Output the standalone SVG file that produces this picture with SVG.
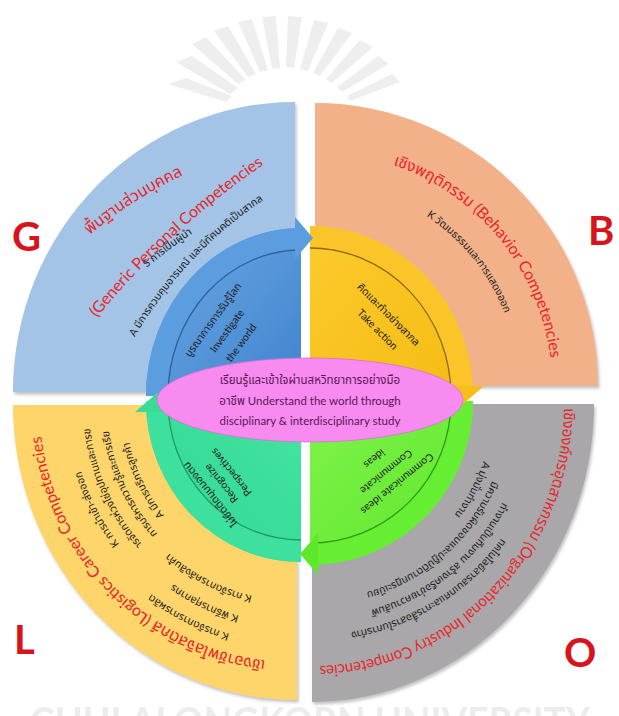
<svg xmlns="http://www.w3.org/2000/svg" width="619" height="716" viewBox="0 0 619 716">
<defs>
<filter id="sh" x="-10%" y="-10%" width="120%" height="120%"><feDropShadow dx="1.5" dy="2.5" stdDeviation="1.5" flood-color="#777" flood-opacity="0.45"/></filter>
<linearGradient id="gBlue" x1="0" y1="0" x2="1" y2="1"><stop offset="0" stop-color="#6ea9e3"/><stop offset="1" stop-color="#3f83cf"/></linearGradient>
<linearGradient id="gYel" x1="0" y1="0" x2="1" y2="1"><stop offset="0" stop-color="#fccb2e"/><stop offset="1" stop-color="#f5bb12"/></linearGradient>
<linearGradient id="gTeal" x1="1" y1="0" x2="0" y2="1"><stop offset="0" stop-color="#45e3a2"/><stop offset="1" stop-color="#2fd690"/></linearGradient>
<linearGradient id="gGrn" x1="0" y1="0" x2="1" y2="1"><stop offset="0" stop-color="#80f34b"/><stop offset="1" stop-color="#5ce62a"/></linearGradient>
<path id="pG1" d="M84,240 A420,420 0 0 1 190,172"/>
<path id="pG2" d="M95,320 A800,800 0 0 1 266,163"/>
<path id="pG3" d="M142,272 A420,420 0 0 1 198,230"/>
<path id="pG4" d="M132,342 A420,420 0 0 1 268,197"/>
<path id="pB1" d="M374,159 A236,236 0 0 1 552,378"/>
<path id="pB2" d="M423,214 A203,203 0 0 1 506,317"/>
<path id="pL1" d="M270,661 A257,257 0 0 1 41,432"/>
<path id="pL2" d="M263,598 A196,196 0 0 1 161,546"/>
<path id="pL3" d="M244,617 A218,218 0 0 1 169,581"/>
<path id="pL4" d="M231,634 A238,238 0 0 1 150,593"/>
<path id="pL5" d="M165,516 A172,172 0 0 1 129,441"/>
<path id="pL6" d="M156,532 A190,190 0 0 1 109,431"/>
<path id="pL7" d="M142,544 A208,208 0 0 1 90,427"/>
<path id="pL8" d="M124,550 A226,226 0 0 1 79,464"/>
<path id="pO1" d="M564,406 A252,262 0 0 1 312,666"/>
<path id="pO2" d="M489,440 A180,180 0 0 1 440,531"/>
<path id="pO3" d="M496,471 A196,196 0 0 1 356,595"/>
<path id="pO4" d="M501,505 A214,214 0 0 1 370,610"/>
<path id="pO5" d="M502,537 A232,232 0 0 1 350,632"/>
</defs>
<style>
text{font-family:Lato,"Noto Sans Thai","Noto Sans","DejaVu Sans",sans-serif}
.big{font-size:40px;font-weight:bold;fill:#d7141c}
.red{font-size:16px;fill:#e8262b}
.blk{font-size:10.5px;fill:#1a1a1a}
.in{font-size:10.5px;fill:#1b1b1b}
.el{font-size:11.5px;fill:#5a1656;text-anchor:middle}
.sep{fill:none;stroke-width:1.3}
.band{fill:none;stroke-width:22}
.ray{fill:#ededed}
</style>

<g id="watermark" opacity="0.9">
<path class="ray" d="M168,84 L186,78 L232,96 L226,102 Z"/>
<path class="ray" d="M176,62 L192,56 L238,88 L230,94 Z"/>
<path class="ray" d="M192,44 L206,37 L246,80 L238,84 Z"/>
<path class="ray" d="M214,31 L228,26 L256,74 L248,77 Z"/>
<path class="ray" d="M238,22 L252,19 L268,70 L260,72 Z"/>
<path class="ray" d="M262,17 L276,16 L280,68 L272,69 Z"/>
<path class="ray" d="M288,16 L302,17 L294,68 L286,67 Z"/>
<path class="ray" d="M314,20 L328,23 L308,71 L300,69 Z"/>
<path class="ray" d="M338,28 L352,33 L320,76 L313,73 Z"/>
<path class="ray" d="M360,40 L373,47 L332,83 L326,79 Z"/>
<path class="ray" d="M378,56 L389,64 L342,92 L337,87 Z"/>
<path class="ray" d="M392,74 L400,82 L350,101 L347,96 Z"/>
<text x="310" y="736" text-anchor="middle" font-size="40" font-weight="bold" fill="#ebebeb" textLength="560" lengthAdjust="spacingAndGlyphs">CHULALONGKORN UNIVERSITY</text>
</g>

<g id="G">
<path d="M295,392 L13,392 A282,290 0 0 1 295,102 Z" fill="#a3c4e6" filter="url(#sh)"/>
<text class="big" x="12" y="251">G</text>
<text class="red" font-size="15"><textPath href="#pG1" startOffset="50%" text-anchor="middle">พื้นฐานส่วนบุคคล</textPath></text>
<text class="red" font-size="14.5"><textPath href="#pG2" startOffset="50%" text-anchor="middle">(Generic Personal Competencies</textPath></text>
<text class="blk"><textPath href="#pG3" startOffset="50%" text-anchor="middle">S การเป็นผู้นำ</textPath></text>
<text class="blk"><textPath href="#pG4" startOffset="50%" text-anchor="middle">A มีการควบคุมอารมณ์ และมีทัศนคติเป็นสากล</textPath></text>
</g>

<g id="B">
<path d="M315,386 L315,103 A283,283 0 0 1 598,386 Z" fill="#f3b189" filter="url(#sh)"/>
<text class="big" x="588" y="245">B</text>
<text class="red" font-size="17.5"><textPath href="#pB1" startOffset="50%" text-anchor="middle">เชิงพฤติกรรม (Behavior Competencies</textPath></text>
<text class="blk"><textPath href="#pB2" startOffset="50%" text-anchor="middle">K วัฒนธรรมและการแสดงออก</textPath></text>
</g>

<g id="L">
<path d="M297,405 L297,700 A284,295 0 0 1 13,405 Z" fill="#fdd56a" filter="url(#sh)"/>
<text class="big" x="14" y="654">L</text>
<text class="red" font-size="17" fill="#e84a1c"><textPath href="#pL1" startOffset="50%" text-anchor="middle">เชิงอาชีพโลจิสติกส์ (Logistics Career Competencies</textPath></text>
<text class="blk"><textPath href="#pL2" startOffset="50%" text-anchor="middle">K การจัดการคลังสินค้า</textPath></text>
<text class="blk"><textPath href="#pL3" startOffset="50%" text-anchor="middle">K พิธีการศุลกากร</textPath></text>
<text class="blk"><textPath href="#pL4" startOffset="50%" text-anchor="middle">K การจัดการการผลิต</textPath></text>
<text class="blk"><textPath href="#pL5" startOffset="50%" text-anchor="middle">A มีการบริการลูกค้า</textPath></text>
<text class="blk"><textPath href="#pL6" startOffset="50%" text-anchor="middle">K การบริหารความรู้และการเรียนรู้</textPath></text>
<text class="blk"><textPath href="#pL7" startOffset="50%" text-anchor="middle">K การจัดการห่วงโซ่อุปทานและการขนส่ง</textPath></text>
<text class="blk"><textPath href="#pL8" startOffset="50%" text-anchor="middle">K การนำเข้า-ส่งออก</textPath></text>
</g>

<g id="O">
<path d="M312,404 L594,404 A282,298 0 0 1 312,702 Z" fill="#a9a7a9" filter="url(#sh)"/>
<text class="big" x="564" y="667">O</text>
<text class="red" font-size="14"><textPath href="#pO1" startOffset="2" textLength="392" lengthAdjust="spacingAndGlyphs">เชิงองค์กรอุตสาหกรรม (Organizational Industry Competencies</textPath></text>
<text class="blk"><textPath href="#pO2" startOffset="50%" text-anchor="middle">A มุ่งมั่นทำงาน</textPath></text>
<text class="blk"><textPath href="#pO3" startOffset="50%" text-anchor="middle">มีความรับผิดชอบและปฏิบัติตามกฎระเบียบ</textPath></text>
<text class="blk"><textPath href="#pO4" startOffset="50%" text-anchor="middle">S ทำงานเป็นทีมงาน สร้างเครือข่ายความสัมพันธ์</textPath></text>
<text class="blk"><textPath href="#pO5" startOffset="50%" text-anchor="middle">S เทคโนโลยีสารสนเทศและการสื่อสารในการทำงาน</textPath></text>
</g>

<g id="inner-blue">
<path d="M301,396 L146,396 A155,168 0 0 1 301,228 Z" fill="url(#gBlue)"/>
<path class="band" d="M157,396 A144,157 0 0 1 301,239" stroke="#5b9ddf"/>
<path class="sep" d="M168,396 A133,146 0 0 1 301,250" stroke="#2c5f98"/>
<text class="in" transform="translate(216,322) rotate(-54)" text-anchor="middle">บูรณาการการรับรู้โลก</text>
<text class="in" transform="translate(230,333) rotate(-54)" text-anchor="middle">Investigate</text>
<text class="in" transform="translate(244,345) rotate(-54)" text-anchor="middle">the world</text>
</g>

<g id="inner-yellow">
<path d="M310,396 L310,226 A163,170 0 0 1 473,396 Z" fill="url(#gYel)"/>
<path class="band" d="M310,237 A152,159 0 0 1 462,396" stroke="#fbc52a"/>
<path class="sep" d="M310,248 A141,148 0 0 1 451,396" stroke="#8a6a10"/>
<text class="in" font-size="11" transform="translate(386,317) rotate(45)" text-anchor="middle">คิดและทำอย่างสากล</text>
<text class="in" font-size="11" transform="translate(375,332) rotate(45)" text-anchor="middle">Take action</text>
</g>

<g id="inner-teal">
<path d="M301,401 L301,562 A155,161 0 0 1 146,401 Z" fill="url(#gTeal)"/>
<path class="band" d="M301,551 A144,150 0 0 1 157,401" stroke="#3ee09e"/>
<path class="sep" d="M301,540 A133,139 0 0 1 168,401" stroke="#1f9a68"/>
<text class="in" transform="translate(213,492) rotate(231)" text-anchor="middle">ไม่ยึดติดมุมมองตน</text>
<text class="in" transform="translate(224,481) rotate(231)" text-anchor="middle">Recognize</text>
<text class="in" transform="translate(234,470) rotate(231)" text-anchor="middle">Perspectives</text>
</g>

<g id="inner-green">
<path d="M310,401 L473,401 A163,164 0 0 1 310,565 Z" fill="url(#gGrn)"/>
<path class="band" d="M462,401 A152,153 0 0 1 310,554" stroke="#66ee33"/>
<path class="sep" d="M451,401 A141,142 0 0 1 310,543" stroke="#2d9a12"/>
<text class="in" transform="translate(395,481) rotate(141)" text-anchor="middle">Communicate ideas</text>
<text class="in" transform="translate(384,469) rotate(141)" text-anchor="middle">Communicate</text>
<text class="in" transform="translate(372,456) rotate(141)" text-anchor="middle">ideas</text>
</g>

<g id="connectors">
<polygon points="295,217 313,238 295,259" fill="#5b9ddf"/>
<polygon points="441,386 484,386 462,405" fill="#f7bd18"/>
<polygon points="318,533 318,575 300,554" fill="#5ee82c"/>
<polygon points="135,412 179,412 157,393" fill="#38dc98"/>
</g>

<g id="center">
<ellipse cx="310" cy="400" rx="153" ry="42" fill="#f78bef" stroke="#d56fd0" stroke-width="0.8"/>
<text class="el" x="310" y="384">เรียนรู้และเข้าใจผ่านสหวิทยาการอย่างมือ</text>
<text class="el" x="310" y="405">อาชีพ Understand the world through</text>
<text class="el" x="310" y="425">disciplinary &amp; interdisciplinary study</text>
</g>
</svg>
